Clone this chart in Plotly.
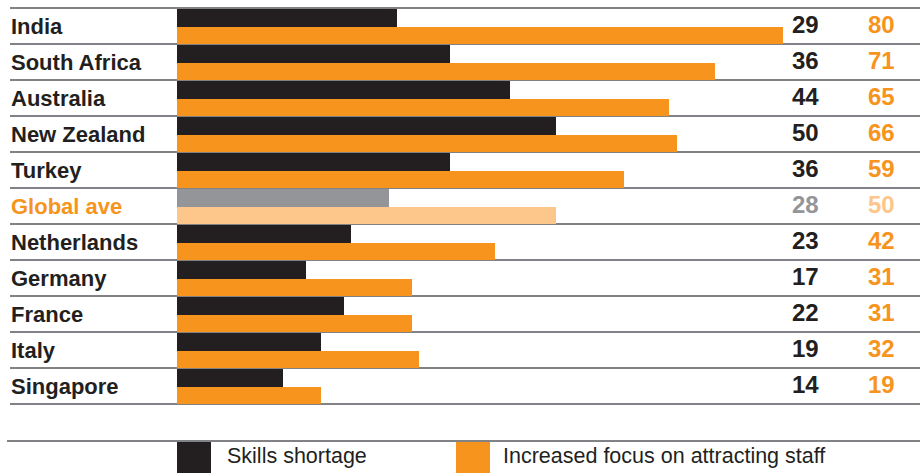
import plotly.graph_objects as go

# Survey results by country (% of employers)
countries = ["India", "South Africa", "Australia", "New Zealand", "Turkey", "Global ave",
             "Netherlands", "Germany", "France", "Italy", "Singapore"]
skills_shortage = [29, 36, 44, 50, 36, 28, 23, 17, 22, 19, 14]
attracting_staff = [80, 71, 65, 66, 59, 50, 42, 31, 31, 32, 19]
legend_labels = ["Skills shortage", "Increased focus on attracting staff"]

W, H = 921, 473
BLACK = "#231f20"
ORANGE = "#f7941d"
GREY = "#939598"
PEACH = "#fdc68a"
RULE = "#808285"

AVG = "Global ave"
c_black = [GREY if c == AVG else BLACK for c in countries]
c_orange = [PEACH if c == AVG else ORANGE for c in countries]
c_label = [ORANGE if c == AVG else BLACK for c in countries]

rows = list(range(len(countries)))
centers = [r + 0.5 for r in rows]

# pixel geometry: bars start at x=177 px, 7.575 px per percentage point
x0_px, px_per_unit = 177, 7.575
x_range = [-x0_px / px_per_unit, (W - x0_px) / px_per_unit]
# rows are 36 px tall, first row boundary at y=8 px
top_px, row_px = 8, 36
y_range = [(H - top_px) / row_px, -top_px / row_px]

fig = go.Figure()
fig.add_trace(go.Bar(
    y=rows, x=skills_shortage, orientation="h", base=0,
    offset=0.03, width=0.51, marker=dict(color=c_black, line=dict(width=0)),
    name=legend_labels[0], showlegend=False, hoverinfo="x+text", text=countries,
    textposition="none",
))
fig.add_trace(go.Bar(
    y=rows, x=attracting_staff, orientation="h", base=0,
    offset=0.54, width=0.46, marker=dict(color=c_orange, line=dict(width=0)),
    name=legend_labels[1], showlegend=False, hoverinfo="x+text", text=countries,
    textposition="none",
))

shapes = []
# horizontal rules between rows
for r in range(len(countries) + 1):
    shapes.append(dict(type="line", xref="paper", yref="y",
                       x0=10 / W, x1=920 / W, y0=r, y1=r,
                       line=dict(color=RULE, width=2), layer="below"))
# rule above the legend
shapes.append(dict(type="line", xref="paper", yref="paper",
                   x0=7 / W, x1=920 / W, y0=1 - 441 / H, y1=1 - 441 / H,
                   line=dict(color=RULE, width=2), layer="below"))
# legend swatches
for xs, col in [(177, BLACK), (456, ORANGE)]:
    shapes.append(dict(type="rect", xref="paper", yref="paper",
                       x0=xs / W, x1=(xs + 34) / W, y0=1 - 473 / H, y1=1 - 442 / H,
                       fillcolor=col, line=dict(width=0)))

annotations = []
FONT = "Liberation Sans, Arial, sans-serif"
for c, yc, col, a, b, ca, cb in zip(countries, centers, c_label, skills_shortage,
                                    attracting_staff, c_black, c_orange):
    annotations.append(dict(text=f"<b>{c}</b>", x=9 / W, xref="paper", y=yc, yref="y",
                            xanchor="left", yanchor="middle", showarrow=False,
                            font=dict(family=FONT, size=22, color=col)))
    annotations.append(dict(text=f"<b>{a}</b>", x=821 / W, xref="paper", y=yc - 0.03, yref="y",
                            xanchor="right", yanchor="middle", showarrow=False,
                            font=dict(family=FONT, size=24, color=ca)))
    annotations.append(dict(text=f"<b>{b}</b>", x=897 / W, xref="paper", y=yc - 0.03, yref="y",
                            xanchor="right", yanchor="middle", showarrow=False,
                            font=dict(family=FONT, size=24, color=cb)))

for xs, txt in [(225, legend_labels[0]), (501, legend_labels[1])]:
    annotations.append(dict(text=txt, x=xs / W, xref="paper", y=1 - 456 / H, yref="paper",
                            xanchor="left", yanchor="middle", showarrow=False,
                            font=dict(family=FONT, size=21.5, color=BLACK)))

fig.update_layout(
    width=W, height=H,
    margin=dict(l=0, r=0, t=0, b=0, pad=0),
    paper_bgcolor="white", plot_bgcolor="white",
    barmode="overlay", bargap=0,
    xaxis=dict(range=x_range, visible=False, fixedrange=True),
    yaxis=dict(range=y_range, visible=False, fixedrange=True),
    shapes=shapes, annotations=annotations,
    showlegend=False,
)

fig.write_html("out.html")
